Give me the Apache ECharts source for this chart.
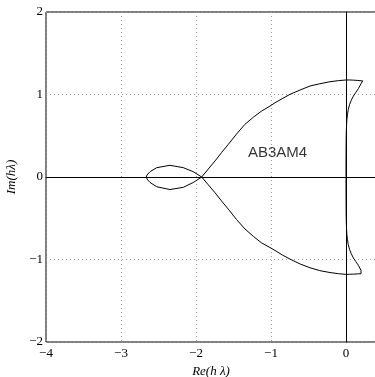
<!DOCTYPE html>
<html>
<head>
<meta charset="utf-8">
<script src="https://cdn.jsdelivr.net/npm/echarts@6/dist/echarts.min.js"></script>
<style>
  html, body { margin: 0; padding: 0; background: #fff; }
  #chart { width: 375px; height: 377px; }
</style>
</head>
<body>
<div id="chart"></div>
<script>
// boundary of the stability region
// origin -> upper cusp -> top arc -> loop -> lower arc -> lower cusp -> origin
var curveRe = [
  0, 0, 0.001, 0.002, 0.004, 0.008, 0.012, 0.020, 0.030, 0.048, 0.070, 0.098, 0.130, 0.164, 0.200, 0.222,
  0.200, 0.150, 0.100, 0.050, 0, -0.100, -0.213, -0.350, -0.480, -0.610, -0.747, -0.850, -0.947, -1.013,
  -1.124, -1.235, -1.347, -1.460, -1.569, -1.660, -1.747, -1.836, -1.924,
  -2.036, -2.169, -2.347, -2.524, -2.613, -2.645, -2.665, -2.645, -2.613, -2.524, -2.347, -2.169, -2.036, -1.924,
  -1.836, -1.747, -1.660, -1.569, -1.460, -1.347, -1.235, -1.124, -1.013, -0.947, -0.850, -0.747, -0.610,
  -0.480, -0.350, -0.213, -0.100, 0, 0.050, 0.100, 0.150, 0.200, 0.222,
  0.200, 0.164, 0.130, 0.098, 0.070, 0.048, 0.030, 0.020, 0.012, 0.008, 0.004, 0.002, 0.001, 0, 0
];
var curveIm = [
  0, 0.15, 0.30, 0.45, 0.55, 0.64, 0.70, 0.76, 0.82, 0.88, 0.93, 0.98, 1.025, 1.07, 1.13, 1.165,
  1.167, 1.171, 1.174, 1.176, 1.176, 1.168, 1.155, 1.130, 1.103, 1.055, 1.002, 0.950, 0.900, 0.860,
  0.800, 0.725, 0.639, 0.520, 0.396, 0.295, 0.194, 0.097, 0,
  -0.066, -0.125, -0.152, -0.118, -0.066, -0.035, 0, 0.035, 0.064, 0.113, 0.142, 0.113, 0.064, 0,
  -0.095, -0.190, -0.290, -0.390, -0.515, -0.630, -0.720, -0.800, -0.855, -0.890, -0.945, -0.995, -1.055,
  -1.100, -1.135, -1.158, -1.172, -1.180, -1.179, -1.177, -1.175, -1.172, -1.168,
  -1.130, -1.070, -1.025, -0.980, -0.930, -0.880, -0.820, -0.760, -0.700, -0.640, -0.550, -0.450, -0.300, -0.150, 0
];

var methodName = 'AB3AM4';
var methodLabelAt = [-0.913, 0.29];

var xRange = [-4, 0.4];
var yRange = [-2, 2];

var curve = curveRe.map(function (re, i) {
  return [re, curveIm[i]];
});

function tickText(v) {
  if (Math.round(v) !== v) return '';
  return String(v).replace('-', '\u2212');
}

var chart = echarts.init(document.getElementById('chart'), null, { renderer: 'canvas' });

var option = {
  animation: false,
  backgroundColor: '#fff',
  grid: {
    left: 46,
    top: 12,
    width: 330,
    height: 330,
    outerBoundsMode: 'none',
    containLabel: false,
    show: true,
    borderColor: '#000',
    borderWidth: 1,
    backgroundColor: 'transparent'
  },
  xAxis: {
    type: 'value',
    min: xRange[0],
    max: xRange[1],
    interval: 1,
    axisLine: { show: true, lineStyle: { color: '#000', width: 1 } },
    axisTick: { show: false },
    axisLabel: {
      color: '#000',
      fontFamily: 'Liberation Serif',
      fontSize: 13,
      margin: 5,
      formatter: tickText
    },
    splitLine: { show: true, lineStyle: { color: '#999', type: [1, 3], width: 1 } },
    name: 'Re(h \u03bb)',
    nameLocation: 'middle',
    nameGap: 20,
    nameTextStyle: { color: '#000', fontFamily: 'Liberation Serif', fontStyle: 'italic', fontSize: 13 }
  },
  yAxis: {
    type: 'value',
    min: yRange[0],
    max: yRange[1],
    interval: 1,
    axisLine: { show: true, lineStyle: { color: '#000', width: 1 } },
    axisTick: { show: false },
    axisLabel: {
      color: '#000',
      fontFamily: 'Liberation Serif',
      fontSize: 13,
      margin: 3,
      formatter: tickText
    },
    splitLine: { show: true, lineStyle: { color: '#999', type: [1, 3], width: 1 } },
    name: 'Im(h\u03bb)',
    nameLocation: 'middle',
    nameGap: 21,
    nameTextStyle: { color: '#000', fontFamily: 'Liberation Serif', fontStyle: 'italic', fontSize: 13 }
  },
  series: [{
    type: 'line',
    data: curve,
    showSymbol: false,
    smooth: false,
    lineStyle: { color: '#000', width: 1 },
    silent: true,
    markLine: {
      silent: true,
      symbol: ['none', 'none'],
      label: { show: false },
      lineStyle: { color: '#000', width: 1, type: 'solid' },
      data: [{ xAxis: 0 }, { yAxis: 0 }]
    }
  }, {
    type: 'scatter',
    data: [methodLabelAt],
    symbolSize: 1,
    itemStyle: { color: 'transparent' },
    silent: true,
    label: {
      show: true,
      position: 'inside',
      formatter: methodName,
      color: '#000',
      fontFamily: 'Liberation Sans',
      fontSize: 15
    }
  }]
};

chart.setOption(option);
</script>
</body>
</html>
